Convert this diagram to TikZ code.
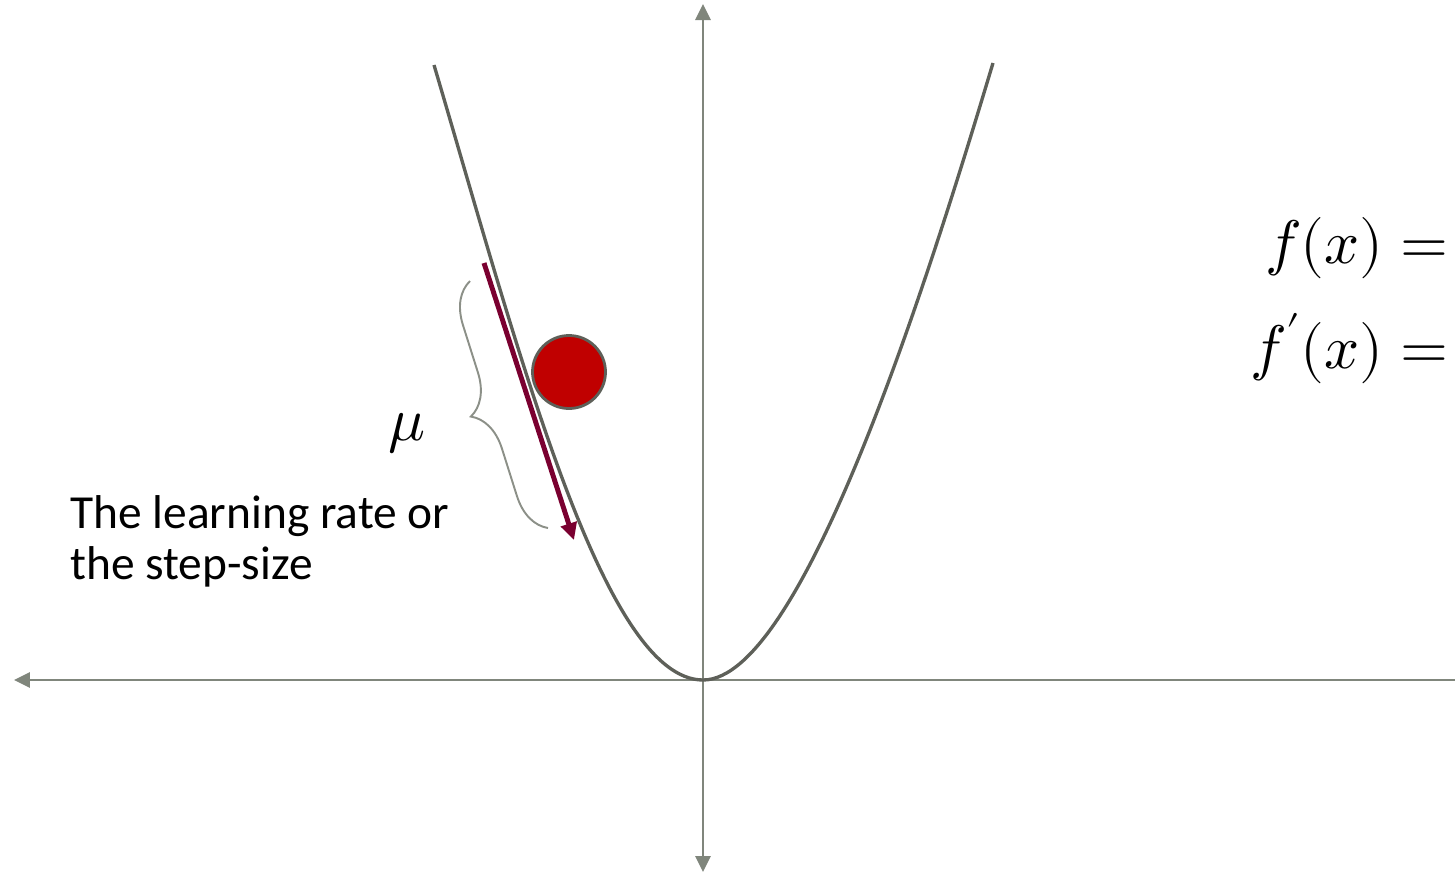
\documentclass[tikz,border=0pt]{standalone}
\usepackage{fontspec}
\usepackage{unicode-math}
\setmainfont{Carlito}
\usetikzlibrary{arrows.meta, positioning, decorations.pathreplacing}
\definecolor{axisgray}{RGB}{128,134,124}
\definecolor{curvegray}{RGB}{94,96,89}
\definecolor{bracegray}{RGB}{140,144,136}
\definecolor{ballred}{RGB}{192,0,0}
\definecolor{stepred}{RGB}{122,0,48}
\tikzset{
    axis_line/.style={
        draw=axisgray, line width=1.6pt,
        {Triangle[length=0.32cm,width=0.30cm]}-{Triangle[length=0.32cm,width=0.30cm]}
    },
    curve_line/.style={
        draw=curvegray, line width=1.9pt, line join=round
    },
    step_arrow/.style={
        draw=stepred, line width=2.8pt, -{Triangle[length=0.34cm,width=0.32cm]}
    },
    brace_line/.style={
        draw=bracegray, line width=1.1pt, decorate,
        decoration={brace, amplitude=0.8cm}
    },
    ball/.style={
        circle, fill=ballred, draw=curvegray, line width=1.6pt,
        minimum size=1.46cm, inner sep=0pt
    },
    math_lbl/.style={
        font=\fontsize{35}{42}\selectfont, inner sep=0pt
    },
    txt_lbl/.style={
        font=\fontsize{27}{29}\selectfont, align=left, inner sep=0pt
    }
}
\begin{document}
\begin{tikzpicture}[x=0.02cm, y=-0.02cm]
    \useasboundingbox (0,0) rectangle (1455,873);

    % Axes
    \coordinate (x_left) at (14,680);
    \coordinate (x_right) at (1480,680);
    \coordinate (y_top) at (703,4);
    \coordinate (y_bottom) at (703,872);
    \draw[axis_line] (x_right) -- (x_left);
    \draw[axis_line] (y_bottom) -- (y_top);

    % Loss curve
    \coordinate (curve_left) at (434,65);
    \coordinate (curve_min) at (703,680);
    \coordinate (curve_right) at (993,63);
    \draw[curve_line] (curve_left) .. controls (519,352) and (603,680) .. (curve_min)
        .. controls (803,680) and (930,273) .. (curve_right);

    % Ball and step
    \node[ball] (ball) at (569,372) {};
    \coordinate (step_start) at (484,263);
    \coordinate (step_end) at (574,540);
    \draw[step_arrow] (step_start) -- (step_end);

    % Brace
    \coordinate (brace_low) at (548,528);
    \coordinate (brace_high) at (470,281);
    \draw[brace_line] (brace_low) -- (brace_high);

    % Labels
    \node[math_lbl] (mu) at (407,434) {$\mu$};
    \node[txt_lbl, anchor=base west] (rate) at (70,579) {The learning rate or\\the step-size};
    \node[math_lbl, anchor=base east] (fx) at (1449,263) {$f(x) =$};
    \node[math_lbl, anchor=base east] (dfx) at (1449,368) {$f'(x) =$};
\end{tikzpicture}
\end{document}
